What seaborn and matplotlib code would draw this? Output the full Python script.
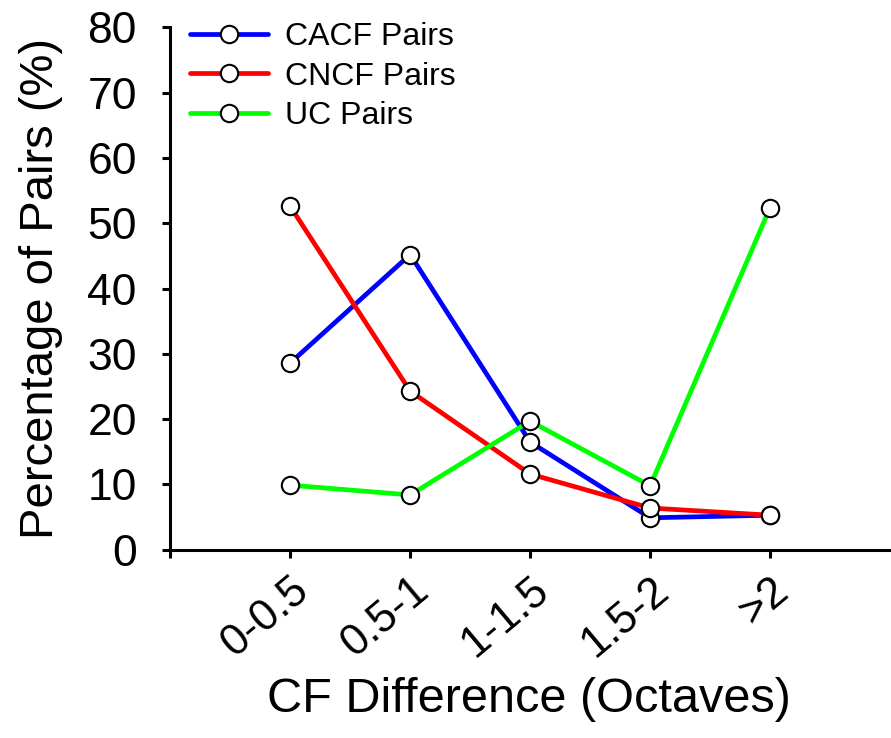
import matplotlib
matplotlib.use("Agg")
import matplotlib.pyplot as plt
import matplotlib.transforms as mtransforms
import seaborn as sns
import pandas as pd

categories = ["0-0.5", "0.5-1", "1-1.5", "1.5-2", ">2"]
cacf = [28.6, 45.2, 16.5, 4.9, 5.3]
cncf = [52.6, 24.3, 11.6, 6.4, 5.3]
uc = [9.9, 8.4, 19.7, 9.8, 52.4]
series_names = ["CACF Pairs", "CNCF Pairs", "UC Pairs"]
colors = ["#0000ff", "#ff0000", "#00ff00"]
yticks = [0, 10, 20, 30, 40, 50, 60, 70, 80]

sns.set_style("ticks")
plt.rcParams["font.family"] = ["Liberation Sans", "DejaVu Sans"]
for k in ["text.color", "axes.labelcolor", "xtick.color", "ytick.color", "axes.edgecolor"]:
    plt.rcParams[k] = "black"

fig = plt.figure(figsize=(8.91, 7.38), dpi=100)
ax = fig.add_axes([0.191, 0.255, 0.808, 0.708])

xpos = list(range(len(categories)))
for name, vals, col in zip(series_names, [cacf, cncf, uc], colors):
    df = pd.DataFrame({"x": xpos, "y": vals})
    sns.lineplot(data=df, x="x", y="y", ax=ax, color=col, linewidth=3.4,
                 marker="o", markersize=12.5, markerfacecolor="white",
                 markeredgecolor="black", markeredgewidth=1.5, label=name)

ax.set_xlim(-1, 5)
ax.set_ylim(0, 80)
ax.set_xticks([-1] + xpos)
ax.set_xticklabels([""] + categories, rotation=40, ha="right", va="top",
                   rotation_mode="anchor", fontsize=31.5)
shift = mtransforms.ScaledTranslation(7 / 100, 0, fig.dpi_scale_trans)
for lbl in ax.get_xticklabels():
    lbl.set_transform(lbl.get_transform() + shift)
ax.set_yticks(yticks)
ax.set_yticklabels([str(v) for v in yticks], fontsize=32)
ax.tick_params(axis="both", direction="out", length=6, width=2.2)
ax.tick_params(axis="x", pad=8)
ax.tick_params(axis="y", pad=18)
for s in ["top", "right"]:
    ax.spines[s].set_visible(False)
for s in ["left", "bottom"]:
    ax.spines[s].set_linewidth(2.2)

ax.set_xlabel("CF Difference (Octaves)", fontsize=35)
ax.set_ylabel("Percentage of Pairs (%)", fontsize=34)
ax.xaxis.set_label_coords(0.498, -0.243)
ax.yaxis.set_label_coords(-0.149, 0.5)

ax.legend(loc="upper left", bbox_to_anchor=(190 / 891, 1 - 22 / 738),
          bbox_transform=fig.transFigure, frameon=False, fontsize=23,
          handlelength=2.44, handletextpad=0.53, labelspacing=0.3,
          borderpad=0, borderaxespad=0)

fig.savefig("out.png", dpi=100)
